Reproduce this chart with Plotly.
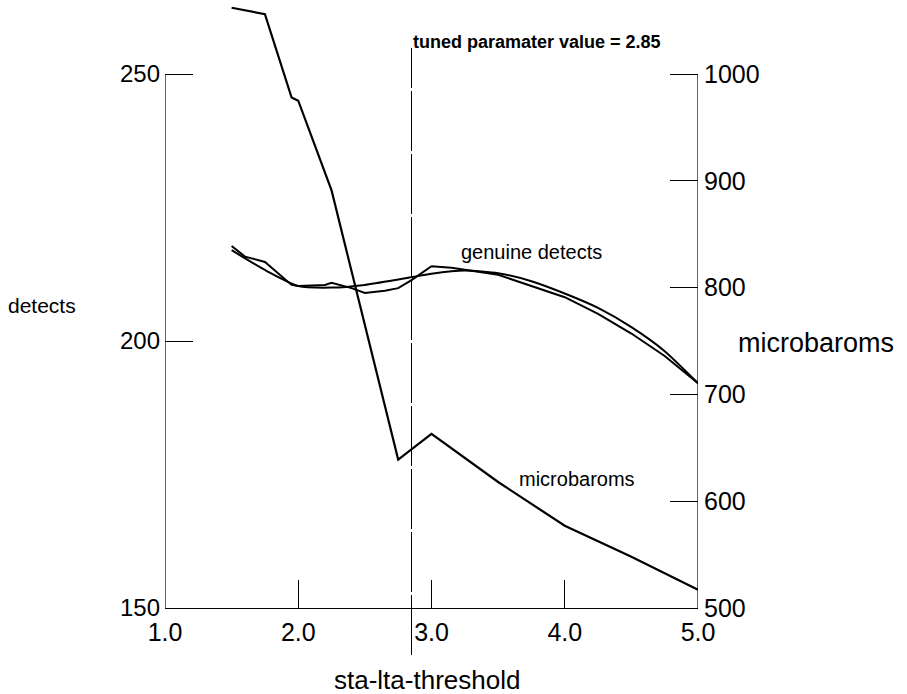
import plotly.graph_objects as go

# ---------------- data ----------------
micro_x = [1.5, 1.75, 1.95, 2.0, 2.25, 2.75, 3.0, 3.5, 4.0, 4.5, 5.0]
micro_y = [1062, 1056, 978, 975, 891, 639, 663, 618, 577, 548, 517]

det_raw_x = [1.5, 1.6, 1.75, 1.95, 2.0, 2.2, 2.25, 2.4, 2.5, 2.65, 2.75, 2.85,
             3.0, 3.15, 3.5, 4.0, 4.25, 4.5, 4.75, 5.0]
det_raw_y = [217.8, 215.8, 214.8, 210.5, 210.3, 210.5, 210.9, 209.9, 209.0, 209.4,
             209.9, 211.4, 214.0, 213.7, 212.4, 208.2, 205.1, 201.4, 197.2, 192.1]

det_fit_x = [1.5, 1.75, 2.0, 2.25, 2.5, 2.75, 3.0, 3.25, 3.5, 3.75, 4.0, 4.25,
             4.5, 4.75, 5.0]
det_fit_y = [217.0, 213.3, 210.3, 210.0, 210.5, 211.5, 212.6, 213.2, 212.7, 211.2,
             208.9, 206.2, 202.6, 198.1, 192.1]

x_ticks = [1.0, 2.0, 3.0, 4.0, 5.0]
x_tick_text = ["1.0", "2.0", "3.0", "4.0", "5.0"]
left_ticks = [150, 200, 250]
right_ticks = [500, 600, 700, 800, 900, 1000]

tuned_value = 2.85
tuned_label = "tuned paramater value = 2.85"

# -------------- figure ---------------
FONT = "Liberation Sans, Arial, Helvetica, sans-serif"
black = "#000000"

fig = go.Figure()
fig.add_trace(go.Scatter(x=det_raw_x, y=det_raw_y, mode="lines",
                         line=dict(color=black, width=2), yaxis="y",
                         showlegend=False, hoverinfo="skip"))
fig.add_trace(go.Scatter(x=det_fit_x, y=det_fit_y, mode="lines",
                         line=dict(color=black, width=2, shape="spline", smoothing=0.6),
                         yaxis="y", showlegend=False, hoverinfo="skip"))
fig.add_trace(go.Scatter(x=micro_x, y=micro_y, mode="lines",
                         line=dict(color=black, width=2.2), yaxis="y2",
                         showlegend=False, hoverinfo="skip"))

left_top = 250 + 72 / 5.34
right_top = 1000 + 72 / 1.068

fig.update_layout(
    width=907, height=694,
    margin=dict(l=165, r=209, t=2, b=86),
    paper_bgcolor="white", plot_bgcolor="white",
    font=dict(family=FONT, color=black),
    xaxis=dict(range=[1, 5], tickvals=x_ticks, ticktext=x_tick_text,
               ticks="inside", ticklen=28, tickwidth=1, tickcolor=black,
               showline=True, linecolor=black, linewidth=1.2,
               showgrid=False, zeroline=False, ticklabelstandoff=2,
               tickfont=dict(size=25, family=FONT)),
    yaxis=dict(range=[150, left_top], tickvals=left_ticks,
               ticks="inside", ticklen=28, tickwidth=1, tickcolor=black,
               showline=False, showgrid=False, zeroline=False,
               ticklabelstandoff=4,
               tickfont=dict(size=24, family=FONT)),
    yaxis2=dict(range=[500, right_top], tickvals=right_ticks,
                overlaying="y", side="right",
                ticks="inside", ticklen=28, tickwidth=1, tickcolor=black,
                showline=False, showgrid=False, zeroline=False,
                ticklabelstandoff=5,
                tickfont=dict(size=25, family=FONT)),
)

# axis lines (stop at the top tick)
fig.add_shape(type="line", xref="x", yref="y", x0=1, x1=1, y0=150, y1=250,
              line=dict(color=black, width=1.2))
fig.add_shape(type="line", xref="x", yref="y", x0=5, x1=5, y0=150, y1=250,
              line=dict(color=black, width=1.2))

# tuned parameter line
fig.add_shape(type="line", xref="x", yref="paper", x0=tuned_value, x1=tuned_value,
              y0=-0.0776, y1=0.924, line=dict(color=black, width=1, dash="60px,3px"))
fig.add_annotation(x=tuned_value, xref="x", y=0.934, yref="paper", text=tuned_label,
                   showarrow=False, xanchor="left", yanchor="middle", xshift=-1,
                   font=dict(size=18, family=FONT, color=black, weight="bold"))

# series labels
fig.add_annotation(x=3.754, y=216.67, xref="x", yref="y", text="genuine detects",
                   showarrow=False, xanchor="center", yanchor="middle",
                   font=dict(size=20, family=FONT, color=black))
fig.add_annotation(x=4.092, y=620.8, xref="x", yref="y2", text="microbaroms",
                   showarrow=False, xanchor="center", yanchor="middle",
                   font=dict(size=20, family=FONT, color=black))

# axis titles
fig.add_annotation(x=-0.2308, y=0.5, xref="paper", yref="paper", text="detects",
                   showarrow=False, xanchor="center", yanchor="middle",
                   font=dict(size=21, family=FONT, color=black))
fig.add_annotation(x=1.2214, y=0.4373, xref="paper", yref="paper", text="microbaroms",
                   showarrow=False, xanchor="center", yanchor="middle",
                   font=dict(size=27, family=FONT, color=black))
fig.add_annotation(x=0.4916, y=-0.1188, xref="paper", yref="paper", text="sta-lta-threshold",
                   showarrow=False, xanchor="center", yanchor="middle",
                   font=dict(size=26, family=FONT, color=black))

fig.write_html("out.html", config={"displayModeBar": False},
               post_script="document.body.style.margin='0px';")
